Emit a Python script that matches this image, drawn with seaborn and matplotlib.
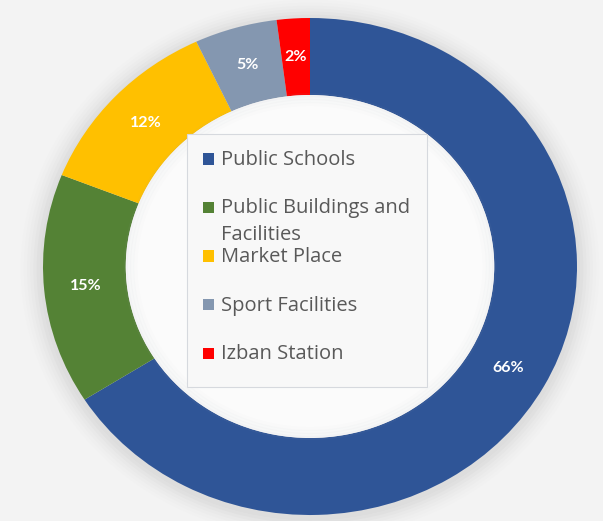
import matplotlib
matplotlib.use("Agg")
import matplotlib.pyplot as plt
from matplotlib.patches import Ellipse, Rectangle
import seaborn as sns

# Share of facilities by type
categories = ["Public Schools", "Public Buildings and\nFacilities", "Market Place",
              "Sport Facilities", "Izban Station"]
shares = [66, 15, 12, 5, 2]
colors = ["#2F5597", "#548235", "#FFC000", "#8497B0", "#FF0000"]

sns.set_theme(style="white")
plt.rcParams["font.family"] = ["Lato", "DejaVu Sans"]

W, H = 603, 521
fig = plt.figure(figsize=(W / 100, H / 100), dpi=100)
fig.patch.set_facecolor("#f3f3f3")


def fx(px):
    return px / W


def fy(py):
    return 1 - py / H


# ring axes: the ring is drawn slightly wider than tall
left, right, top, bottom = 43, 577, 18, 515
ax = fig.add_axes([fx(left), fy(bottom), fx(right - left), (bottom - top) / H])
ax.set_facecolor("none")

# soft glow around the outer edge
for i, a in enumerate([0.04, 0.035, 0.03, 0.025, 0.02, 0.015, 0.01]):
    r = 1.0 + 0.012 * (i + 1)
    ax.add_patch(Ellipse((0, -0.01), 2 * r, 2 * r, facecolor="#808080",
                         alpha=a, edgecolor="none", zorder=0, clip_on=False))

wedges, texts, autotexts = ax.pie(
    shares, colors=colors, startangle=90, counterclock=False, radius=1.0,
    autopct=lambda p: f"{p:.0f}%", pctdistance=0.845,
    wedgeprops=dict(width=0.31, edgecolor="none", linewidth=0),
    textprops=dict(color="white", fontsize=11.5, fontweight="bold"),
)
for w in wedges:
    w.set_zorder(2)
for t in autotexts:
    t.set_zorder(5)

# inner hole with faint shading at its rim
ax.add_patch(Ellipse((0, 0), 1.38, 1.38, facecolor="#fbfbfb", edgecolor="none", zorder=3))
for i, a in enumerate([0.06, 0.045, 0.03, 0.02]):
    r = 0.69 - 0.012 * (i + 1)
    ax.add_patch(Ellipse((0, 0.0), 2 * r + 0.024, 2 * r + 0.024, facecolor="none",
                         edgecolor="#9aa4b4", linewidth=3, alpha=a, zorder=3))

ax.set_xlim(-1, 1)
ax.set_ylim(-1, 1)
ax.set_aspect("auto")
ax.axis("off")

# legend panel inside the hole
box_l, box_t, box_r, box_b = 187, 134, 427, 387
fig.patches.append(Rectangle((fx(box_l), fy(box_b)), fx(box_r - box_l), (box_b - box_t) / H,
                             transform=fig.transFigure, facecolor="#f8f8f8",
                             edgecolor="#d6d9de", linewidth=0.8, zorder=4))

slot0, slot_step = 159, 48.5
sq = 11
for i, (lab, col) in enumerate(zip(categories, colors)):
    yc = slot0 + i * slot_step
    fig.patches.append(Rectangle((fx(203), fy(yc + sq / 2)), fx(sq), sq / H,
                                 transform=fig.transFigure, facecolor=col,
                                 edgecolor="none", zorder=5))
    fig.text(fx(221), fy(yc - 9), lab, ha="left", va="top", fontsize=14.5,
             family=["Open Sans", "DejaVu Sans"],
             color="#595959", linespacing=1.4, zorder=6)

fig.savefig("out.png", dpi=100, facecolor=fig.get_facecolor())
